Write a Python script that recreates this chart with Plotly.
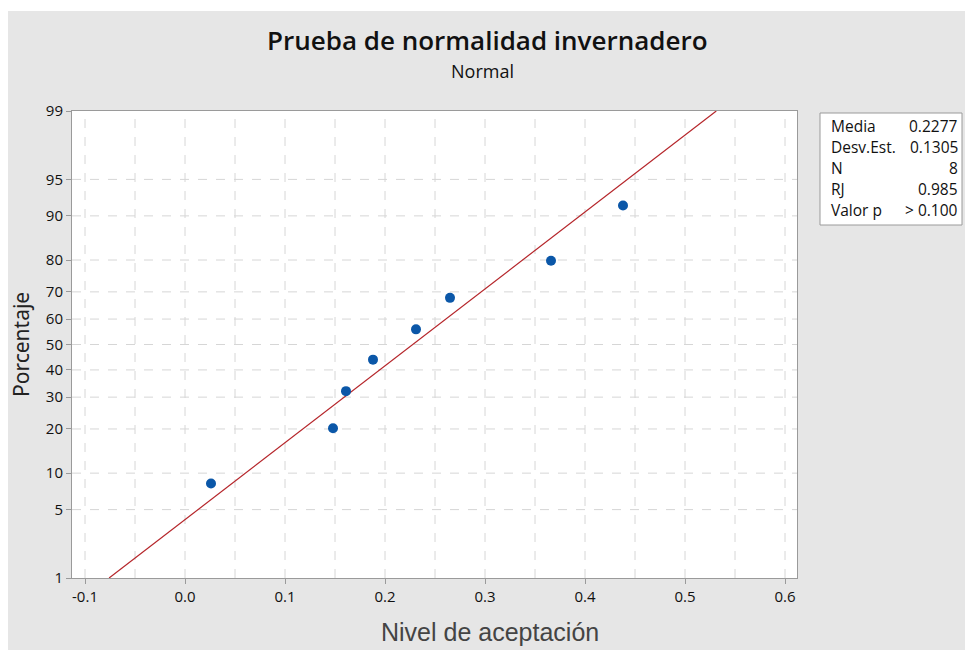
import math
import plotly.graph_objects as go

# Data
nivel = [0.026, 0.148, 0.161, 0.188, 0.231, 0.265, 0.366, 0.438]
porcentaje = [8.3, 20.2, 32.1, 44.0, 56.0, 67.9, 79.8, 91.7]
media = 0.2277
desv = 0.1305
y_ticks = [1, 5, 10, 20, 30, 40, 50, 60, 70, 80, 90, 95, 99]
x_ticks = [-0.1, 0.0, 0.1, 0.2, 0.3, 0.4, 0.5, 0.6]
stat_labels = ["Media", "Desv.Est.", "N", "RJ", "Valor p"]
stat_values = ["0.2277", "0.1305", "8", "0.985", "> 0.100"]


def norm_ppf(p):
    # Acklam's rational approximation of the inverse normal CDF
    a = [-3.969683028665376e+01, 2.209460984245205e+02, -2.759285104469687e+02,
         1.383577518672690e+02, -3.066479806614716e+01, 2.506628277459239e+00]
    b = [-5.447609879822406e+01, 1.615858368580409e+02, -1.556989798598866e+02,
         6.680131188771972e+01, -1.328068155288572e+01]
    c = [-7.784894002430293e-03, -3.223964580411365e-01, -2.400758277161838e+00,
         -2.549732539343734e+00, 4.374664141464968e+00, 2.938163982698783e+00]
    d = [7.784695709041462e-03, 3.224671290700398e-01, 2.445134137142996e+00,
         3.754408661907416e+00]
    pl = 0.02425
    if p < pl:
        q = math.sqrt(-2 * math.log(p))
        return (((((c[0]*q+c[1])*q+c[2])*q+c[3])*q+c[4])*q+c[5]) / \
               ((((d[0]*q+d[1])*q+d[2])*q+d[3])*q+1)
    if p > 1 - pl:
        q = math.sqrt(-2 * math.log(1 - p))
        return -(((((c[0]*q+c[1])*q+c[2])*q+c[3])*q+c[4])*q+c[5]) / \
                ((((d[0]*q+d[1])*q+d[2])*q+d[3])*q+1)
    q = p - 0.5
    r = q * q
    return (((((a[0]*r+a[1])*r+a[2])*r+a[3])*r+a[4])*r+a[5])*q / \
           (((((b[0]*r+b[1])*r+b[2])*r+b[3])*r+b[4])*r+1)


z_pts = [norm_ppf(p / 100) for p in porcentaje]
z_lo = norm_ppf(0.01)
z_hi = norm_ppf(0.99)
line_x = [media + z_lo * desv, media + z_hi * desv]
line_z = [z_lo, z_hi]

W, H = 965, 650
L, R, T, B = 72, 168, 111, 72
pw = W - L - R
ph = H - T - B


def px(x):
    return (x - L) / pw


def py(y):
    return 1 - (y - T) / ph


fig = go.Figure()
fig.add_trace(go.Scatter(x=line_x, y=line_z, mode="lines",
                         line=dict(color="#b5252a", width=1.2),
                         hoverinfo="skip", showlegend=False))
fig.add_trace(go.Scatter(x=nivel, y=z_pts, mode="markers",
                         marker=dict(color="#0b57a8", size=10),
                         showlegend=False))

grid_c = "#d6d6d6"
fig.update_xaxes(range=[-0.113, 0.612], tickvals=x_ticks,
                 ticktext=["%.1f" % v for v in x_ticks],
                 showgrid=False, zeroline=False, showline=True, linecolor="#9a9a9a",
                 mirror=True, ticks="outside", ticklen=5, tickcolor="#9a9a9a",
                 tickfont=dict(family="Open Sans", size=15, color="#111"))
fig.update_yaxes(range=[z_lo, z_hi], tickvals=[norm_ppf(t / 100) for t in y_ticks],
                 ticktext=[str(t) for t in y_ticks],
                 showgrid=False, zeroline=False, showline=True, linecolor="#9a9a9a",
                 mirror=True, ticks="outside", ticklen=5, tickcolor="#9a9a9a",
                 tickfont=dict(family="Open Sans", size=15, color="#111"))

shapes = []
# vertical dashed grid every 0.05
for i in range(-2, 13):
    xv = i * 0.05
    shapes.append(dict(type="line", xref="x", yref="paper", x0=xv, x1=xv, y0=0, y1=1,
                       line=dict(color=grid_c, width=1, dash="dash"), layer="below"))
for t in y_ticks[1:-1]:
    zv = norm_ppf(t / 100)
    shapes.append(dict(type="line", xref="paper", yref="y", x0=0, x1=1, y0=zv, y1=zv,
                       line=dict(color=grid_c, width=1, dash="dash"), layer="below"))
# white strips at top and left edge
shapes.append(dict(type="rect", xref="paper", yref="paper", x0=px(-5), x1=px(W + 5),
                   y0=py(11), y1=py(-5), fillcolor="white", line=dict(width=0), layer="below"))
shapes.append(dict(type="rect", xref="paper", yref="paper", x0=px(-5), x1=px(8),
                   y0=py(H + 5), y1=py(-5), fillcolor="white", line=dict(width=0), layer="below"))
# stats box
shapes.append(dict(type="rect", xref="paper", yref="paper", x0=px(820), x1=px(962),
                   y0=py(225), y1=py(113),
                   fillcolor="white", line=dict(color="#9a9a9a", width=1)))

annotations = [
    dict(text="Prueba de normalidad invernadero", xref="paper", yref="paper",
         x=px(487), y=py(40), showarrow=False,
         font=dict(family="Open Sans", size=26, color="#111", weight=600),
         xanchor="center", yanchor="middle"),
    dict(text="Normal", xref="paper", yref="paper",
         x=px(483), y=py(71), showarrow=False,
         font=dict(family="Open Sans", size=18, color="#111"), xanchor="center", yanchor="middle"),
    dict(text="Nivel de aceptación", xref="paper", yref="paper",
         x=px(490), y=py(632), showarrow=False,
         font=dict(family="Liberation Sans", size=25, color="#444"),
         xanchor="center", yanchor="middle"),
    dict(text="Porcentaje", xref="paper", yref="paper",
         x=px(21), y=py(345), showarrow=False, textangle=-90,
         font=dict(family="Noto Sans", size=21, color="#222"),
         xanchor="center", yanchor="middle"),
]
for i, (lab, val) in enumerate(zip(stat_labels, stat_values)):
    yy = py(126 + i * 21)
    annotations.append(dict(text=lab, xref="paper", yref="paper", x=px(829), y=yy,
                            showarrow=False, xanchor="left", yanchor="middle",
                            font=dict(family="Open Sans", size=15.5, color="#111")))
    annotations.append(dict(text=val, xref="paper", yref="paper", x=px(960), y=yy,
                            showarrow=False, xanchor="right", yanchor="middle",
                            font=dict(family="Open Sans", size=15.5, color="#111")))

fig.update_layout(width=W, height=H, margin=dict(l=L, r=R, t=T, b=B),
                  paper_bgcolor="#e6e6e6", plot_bgcolor="white",
                  shapes=shapes, annotations=annotations)

fig.write_html("out.html", config={"displayModeBar": False},
               post_script="document.body.style.margin='0';")
